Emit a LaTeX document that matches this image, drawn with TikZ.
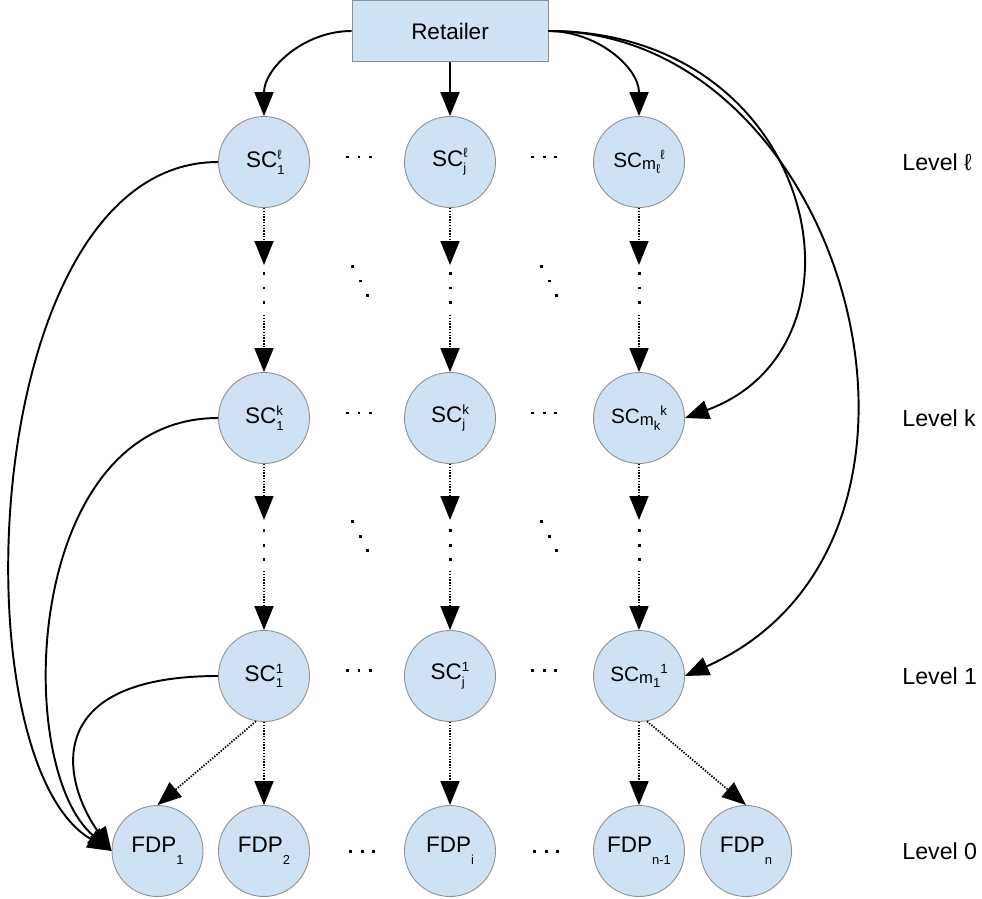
\documentclass[tikz,border=0pt]{standalone}
\usepackage{fontspec}
\setmainfont{Liberation Sans}
\usepackage{tikz}
\usetikzlibrary{arrows.meta, positioning}

\definecolor{azul}{HTML}{CFE2F3}
\definecolor{borde}{HTML}{8E8E8E}

\newcommand{\scsub}[1]{\raisebox{-3.8pt}{\fontsize{7.4}{7.4}\selectfont #1}}
\newcommand{\scsup}[1]{\raisebox{4.6pt}{\fontsize{7.6}{7.6}\selectfont #1}}
\newcommand{\fdpsub}[1]{\raisebox{-6.6pt}{\fontsize{7.4}{7.4}\selectfont #1}}
\newcommand{\scmtxt}[2]{{\fontsize{11.8}{14}\selectfont SC\raisebox{-1pt}{\fontsize{9.5}{9.5}\selectfont m}\scsub{#1}\scsup{#2}}}
\newcommand{\punto}{\rule{1.7pt}{1.7pt}}
\newcommand{\puntosh}{\punto\hspace{5.1pt}\punto\hspace{5.1pt}\punto}
\newcommand{\puntosv}{\vbox{\offinterlineskip\hbox{\punto}\vskip6.3pt\hbox{\punto}\vskip6.3pt\hbox{\punto}}}
\newcommand{\puntosd}{\rule[16pt]{1.7pt}{1.7pt}\hspace{2.3pt}\rule[8pt]{1.7pt}{1.7pt}\hspace{2.3pt}\punto}

\begin{document}
\begin{tikzpicture}[>={Triangle[length=0.48cm,width=0.38cm]}, on grid,
	font=\fontsize{12.8}{15}\selectfont,
	nodo/.style={circle, draw=borde, fill=azul, minimum size=1.82cm, inner sep=0pt, line width=0.5pt},
	caja/.style={rectangle, draw=borde, fill=azul, minimum width=3.92cm, minimum height=1.22cm, line width=0.5pt},
	nivel/.style={anchor=west, inner sep=0pt, font=\fontsize{13.2}{15}\selectfont},
	pts/.style={inner sep=0pt},
	arco/.style={->, line width=1.1pt},
	punteado/.style={->, line width=1pt, dash pattern=on 0.8pt off 0.8pt}]

		\useasboundingbox (0,0) rectangle (19.64,-17.96);

		\node[caja] (ret) at (9,-0.62) {Retailer};

		% Nivel l
		\node[nodo, below=2.62cm of ret] (scjl) {SC\rlap{\scsub{j}}\scsup{ℓ}};
		\node[nodo, left=3.72cm of scjl] (sc1l) {SC\rlap{\scsub{1}}\scsup{ℓ}};
		\node[nodo, right=3.78cm of scjl] (scml) {\scmtxt{ℓ}{ℓ}};
		\node[pts, above right=0.1cm and 1.9cm of sc1l] (hl1) {\puntosh};
		\node[pts, above right=0.1cm and 1.88cm of scjl] (hl2) {\puntosh};

		% Nivel k
		\node[nodo, below=5.12cm of sc1l] (sc1k) {SC\rlap{\scsub{1}}\scsup{k}};
		\node[nodo, below=5.12cm of scjl] (scjk) {SC\rlap{\scsub{j}}\scsup{k}};
		\node[nodo, below=5.12cm of scml] (scmk) {\scmtxt{k}{k}};
		\node[pts, above right=0.1cm and 1.9cm of sc1k] (hk1) {\puntosh};
		\node[pts, above right=0.1cm and 1.88cm of scjk] (hk2) {\puntosh};

		% Nivel 1
		\node[nodo, below=5.16cm of sc1k] (sc11) {SC\rlap{\scsub{1}}\scsup{1}};
		\node[nodo, below=5.16cm of scjk] (scj1) {SC\rlap{\scsub{j}}\scsup{1}};
		\node[nodo, below=5.16cm of scmk] (scm1) {\scmtxt{1}{1}};
		\node[pts, above right=0.12cm and 1.9cm of sc11] (h11) {\puntosh};
		\node[pts, above right=0.12cm and 1.88cm of scj1] (h12) {\puntosh};

		% Nivel 0
		\node[nodo, below=3.5cm of sc11] (fdp2) {FDP\fdpsub{2}};
		\node[nodo, left=2.13cm of fdp2] (fdp1) {FDP\fdpsub{1}};
		\node[nodo, below=3.5cm of scj1] (fdpi) {FDP\fdpsub{i}};
		\node[nodo, below=3.5cm of scm1] (fdpn1) {FDP\fdpsub{n-1}};
		\node[nodo, right=2.14cm of fdpn1] (fdpn) {FDP\fdpsub{n}};
		\node[pts, right=1.96cm of fdp2] (h01) {\puntosh};
		\node[pts, right=1.92cm of fdpi] (h02) {\puntosh};

		% Puntos entre niveles
		\coordinate[below=2.06cm of sc1l] (a1l);
		\coordinate[below=2.06cm of scjl] (ajl);
		\coordinate[below=2.06cm of scml] (aml);
		\node[pts, below=2.52cm of sc1l] (v1l) {\puntosv};
		\node[pts, below=2.52cm of scjl] (vjl) {\puntosv};
		\node[pts, below=2.52cm of scml] (vml) {\puntosv};
		\coordinate[below=3.06cm of sc1l] (b1l);
		\coordinate[below=3.06cm of scjl] (bjl);
		\coordinate[below=3.06cm of scml] (bml);
		\node[pts, below right=2.38cm and 1.92cm of sc1l] (d1l) {\puntosd};
		\node[pts, below right=2.38cm and 1.98cm of scjl] (d2l) {\puntosd};

		\coordinate[below=2.04cm of sc1k] (a1k);
		\coordinate[below=2.04cm of scjk] (ajk);
		\coordinate[below=2.04cm of scmk] (amk);
		\node[pts, below=2.54cm of sc1k] (v1k) {\puntosv};
		\node[pts, below=2.54cm of scjk] (vjk) {\puntosv};
		\node[pts, below=2.54cm of scmk] (vmk) {\puntosv};
		\coordinate[below=3.06cm of sc1k] (b1k);
		\coordinate[below=3.06cm of scjk] (bjk);
		\coordinate[below=3.06cm of scmk] (bmk);
		\node[pts, below right=2.36cm and 1.92cm of sc1k] (d1k) {\puntosd};
		\node[pts, below right=2.36cm and 1.98cm of scjk] (d2k) {\puntosd};

		% Niveles
		\node[nivel] (lvll) at (18.04,-3.24) {Level ℓ};
		\node[nivel] (lvlk) at (18.04,-8.36) {Level k};
		\node[nivel] (lvl1) at (18.04,-13.52) {Level 1};
		\node[nivel] (lvl0) at (18.04,-17.02) {Level 0};

		% Aristas
		\draw[arco] (ret.west) to[out=180, in=90] (sc1l.north);
		\draw[arco] (ret) -- (scjl);
		\draw[arco] (ret.east) to[out=0, in=90] (scml.north);
		\draw[arco] (ret.east) .. controls +(5.4,0) and +(20:4.2) .. (scmk.east);
		\draw[arco] (ret.east) .. controls +(6,0) and +(24:6.6) .. (scm1.east);
		\draw[arco] (sc1l.west) .. controls +(-4.8,0) and +(150:3.6) .. (fdp1.west);
		\draw[arco] (sc1k.west) .. controls +(-3.9,0) and +(140:2.6) .. (fdp1.west);
		\draw[arco] (sc11.west) .. controls +(-3.5,0) and +(125:1.8) .. (fdp1.west);

		\draw[punteado] (sc1l) -- (a1l);
		\draw[punteado] (scjl) -- (ajl);
		\draw[punteado] (scml) -- (aml);
		\draw[punteado] (b1l) -- (sc1k);
		\draw[punteado] (bjl) -- (scjk);
		\draw[punteado] (bml) -- (scmk);
		\draw[punteado] (sc1k) -- (a1k);
		\draw[punteado] (scjk) -- (ajk);
		\draw[punteado] (scmk) -- (amk);
		\draw[punteado] (b1k) -- (sc11);
		\draw[punteado] (bjk) -- (scj1);
		\draw[punteado] (bmk) -- (scm1);

		\draw[punteado] (sc11.-100) -- (fdp1.north);
		\draw[punteado] (sc11) -- (fdp2);
		\draw[punteado] (scj1) -- (fdpi);
		\draw[punteado] (scm1) -- (fdpn1);
		\draw[punteado] (scm1.-80) -- (fdpn.north);
	\end{tikzpicture}
\end{document}
